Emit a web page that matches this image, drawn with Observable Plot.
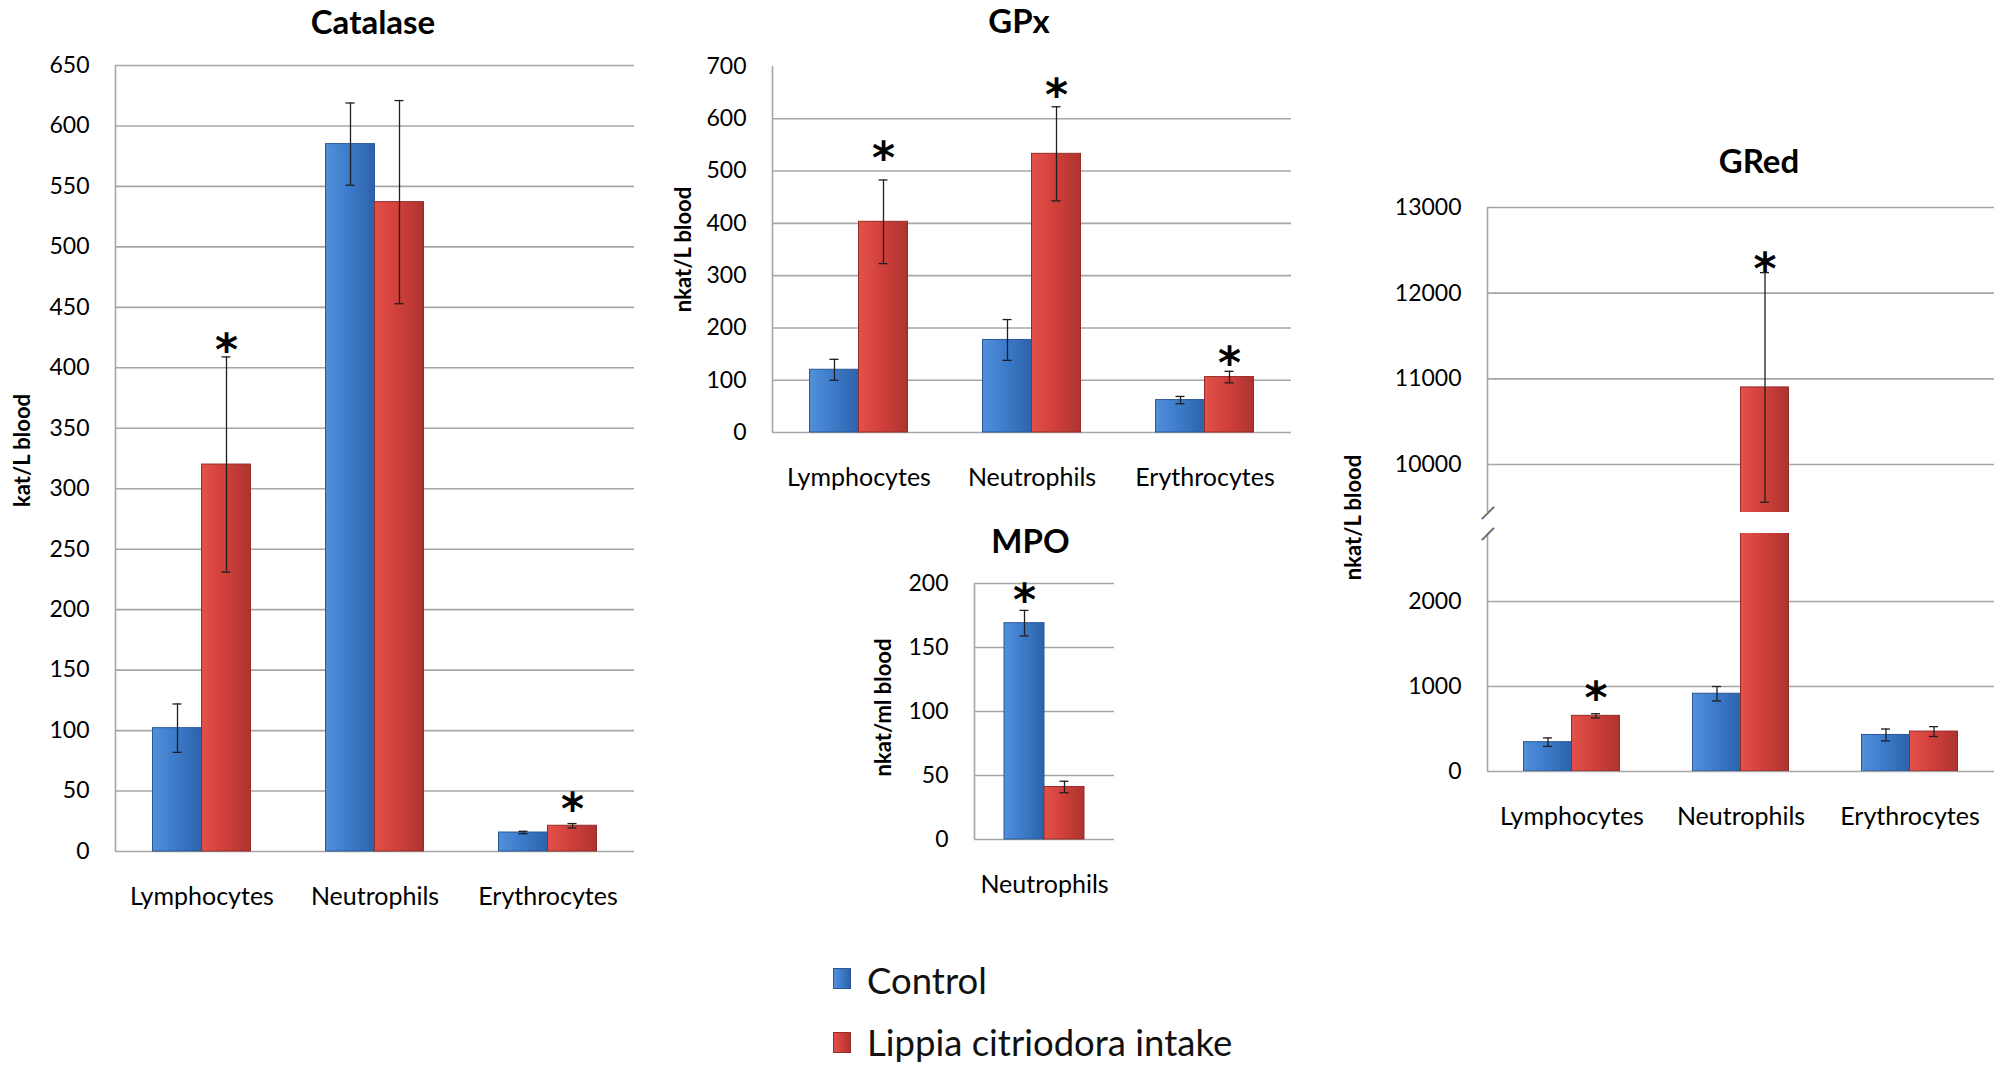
<!DOCTYPE html>
<html><head><meta charset="utf-8">
<script src="https://cdn.jsdelivr.net/npm/d3@7"></script>
<script src="https://cdn.jsdelivr.net/npm/@observablehq/plot@0.6"></script>
<style>
body{margin:0;background:#fff;font-family:Lato,sans-serif;}
#root{position:relative;width:2000px;height:1065px;overflow:hidden;background:#fff;}
.panel{position:absolute;}
.legsq{position:absolute;left:833px;width:18px;height:21px;}
.legtx{position:absolute;left:867px;font-size:36.5px;line-height:40px;color:#111;font-family:Lato,sans-serif;white-space:nowrap;}
</style></head><body>
<svg width="0" height="0" style="position:absolute">
<defs>
<linearGradient id="gBlue" x1="0" x2="1" y1="0" y2="0">
<stop offset="0" stop-color="#5290da"/><stop offset="0.45" stop-color="#3d7ccb"/><stop offset="1" stop-color="#2c63aa"/>
</linearGradient>
<linearGradient id="gRed" x1="0" x2="1" y1="0" y2="0">
<stop offset="0" stop-color="#e3514b"/><stop offset="0.45" stop-color="#d2403b"/><stop offset="1" stop-color="#ad3430"/>
</linearGradient>
</defs></svg>
<div id="root"></div>
<script>
// ---------- data ----------
const categories = ["Lymphocytes", "Neutrophils", "Erythrocytes"];
const mpoCategories = ["Neutrophils"];
const legendLabels = ["Control", "Lippia citriodora intake"];

const catalaseControl   = [102, 585, 15.7];
const catalaseControlSD = [20, 34, 1];
const catalaseLippia    = [320, 537, 21.3];
const catalaseLippiaSD  = [89, 84, 1.8];
const catalaseStarLippia = [419, null, 39];
const catalaseTicks = [0, 50, 100, 150, 200, 250, 300, 350, 400, 450, 500, 550, 600, 650];

const gpxControl   = [120, 177, 62];
const gpxControlSD = [20, 39, 7];
const gpxLippia    = [403, 533, 106];
const gpxLippiaSD  = [80, 90, 11];
const gpxStarLippia = [534, 655, 142];
const gpxTicks = [0, 100, 200, 300, 400, 500, 600, 700];
const gpxGrid  = [0, 100, 200, 300, 400, 500, 600];

const mpoControl   = [169];
const mpoControlSD = [10];
const mpoLippia    = [41];
const mpoLippiaSD  = [4.5];
const mpoStarControl = [191];
const mpoTicks = [0, 50, 100, 150, 200];

const gredControl   = [345, 915, 430];
const gredControlSD = [50, 85, 70];
const gredLippia    = [655, 10900, 470];
const gredLippiaSD  = [25, 1340, 58];
const gredStarLippia = [922, 12342, null];
const gredTicksUpper = [10000, 11000, 12000, 13000];
const gredTicksLower = [0, 1000, 2000];
const gredDomainUpper = [9440, 13000];
const gredDomainLower = [0, 2800];

// ---------- drawing ----------
const root = document.getElementById("root");

function panel(cfg) {
  const [d0, d1] = cfg.domain;
  const rows = (vals, sds, stars) => vals.map((v, i) => ({
    cat: cfg.cats[i], value: v, lo: v - sds[i], hi: v + sds[i],
    star: stars ? stars[i] : null
  }));
  const ctrl = rows(cfg.ctrl, cfg.ctrlSD, cfg.ctrlStar);
  const trt = rows(cfg.trt, cfg.trtSD, cfg.trtStar);
  const innerW = cfg.width - cfg.ml - cfg.mr;
  const band = innerW / cfg.cats.length;
  const bw = cfg.barW;
  const outer = band / 2 - bw;
  const capIn = band / 2 - 4.5;
  const clip = !!cfg.clip;
  const ebar = (data, dx) => [
    Plot.ruleX(data, {x: "cat", y1: "lo", y2: "hi", dx, stroke: "#1e1e1e", strokeWidth: 1.3, clip}),
    Plot.tickY(data, {x: "cat", y: "lo", dx, insetLeft: capIn, insetRight: capIn, stroke: "#1e1e1e", strokeWidth: 1.3, clip}),
    Plot.tickY(data, {x: "cat", y: "hi", dx, insetLeft: capIn, insetRight: capIn, stroke: "#1e1e1e", strokeWidth: 1.3, clip})
  ];
  const stars = (data, dx) => Plot.text(data.filter(d => d.star != null && d.star >= d0 && d.star <= d1), {
    x: "cat", y: "star", text: () => "*", dx, dy: 6, fontSize: 44, fontWeight: "bold",
    fontFamily: "DejaVu Sans, sans-serif", fill: "#000", textAnchor: "middle", lineAnchor: "middle"
  });
  const marks = [
    Plot.ruleY(cfg.grid, {stroke: "#a6a6a6", strokeWidth: 1.6}),
    Plot.ruleX([cfg.cats[0]], {x: d => d, dx: -band / 2, stroke: "#a6a6a6", strokeWidth: 1.6}),
    Plot.barY(ctrl, {x: "cat", y: "value", fill: "url(#gBlue)", stroke: "#2a5896", strokeWidth: 1, insetLeft: outer, insetRight: band / 2, clip}),
    Plot.barY(trt, {x: "cat", y: "value", fill: "url(#gRed)", stroke: "#962c28", strokeWidth: 1, insetLeft: band / 2, insetRight: outer, clip}),
    ...ebar(ctrl, -bw / 2),
    ...ebar(trt, bw / 2),
    stars(ctrl, -bw / 2),
    stars(trt, bw / 2),
    ...(cfg.xAxis === false ? [] : [
      Plot.text(cfg.cats, {x: d => d, frameAnchor: "bottom", dy: 45, fontSize: 25, fill: "#000",
        textAnchor: "middle", lineAnchor: "middle"})
    ]),
    ...(cfg.extra || [])
  ];
  const svg = Plot.plot({
    width: cfg.width, height: cfg.height,
    marginLeft: cfg.ml, marginRight: cfg.mr, marginTop: cfg.mt, marginBottom: cfg.mb,
    style: {fontFamily: "Lato, sans-serif", fontSize: "23px", color: "#000", background: "transparent", overflow: "visible"},
    x: {domain: cfg.cats, padding: 0, axis: null},
    y: {domain: cfg.domain, ticks: cfg.ticks, tickSize: 0, tickPadding: 26, tickFormat: d => String(d), label: null},
    marks
  });
  svg.classList.add("panel");
  svg.style.position = "absolute";
  svg.style.left = cfg.left + "px";
  svg.style.top = cfg.top + "px";
  svg.style.maxWidth = "none";
  root.appendChild(svg);
}

const title = (t, dx, dy) => Plot.text([t], {frameAnchor: "top", dx, dy, fontSize: 33, fontWeight: "bold", fill: "#000", textAnchor: "middle", lineAnchor: "middle"});
const ylab = (t, dx, dy = 0, anchor = "left") => Plot.text([t], {frameAnchor: anchor, rotate: -90, dx, dy, fontSize: 22, fontWeight: "bold", fill: "#000", textAnchor: "middle", lineAnchor: "middle"});
const slash = (anchor) => Plot.text(["\u2014"], {frameAnchor: anchor, rotate: -45, fontSize: 26, fill: "#666", textAnchor: "middle", lineAnchor: "middle"});

// Catalase
panel({
  left: 0, top: 0, width: 660, height: 930, ml: 115, mr: 26, mt: 65, mb: 79,
  cats: categories, domain: [0, 650], ticks: catalaseTicks, grid: catalaseTicks, barW: 49,
  ctrl: catalaseControl, ctrlSD: catalaseControlSD, trt: catalaseLippia, trtSD: catalaseLippiaSD,
  trtStar: catalaseStarLippia,
  extra: [title("Catalase", -2, -42), ylab("kat/L blood", -93, -8)]
});

// GPx
panel({
  left: 640, top: 0, width: 680, height: 500, ml: 132, mr: 29, mt: 66, mb: 68,
  cats: categories, domain: [0, 700], ticks: gpxTicks, grid: gpxGrid, barW: 49,
  ctrl: gpxControl, ctrlSD: gpxControlSD, trt: gpxLippia, trtSD: gpxLippiaSD,
  trtStar: gpxStarLippia,
  extra: [title("GPx", -13, -44), ylab("nkat/L blood", -89)]
});

// MPO
panel({
  left: 860, top: 500, width: 280, height: 420, ml: 114, mr: 26, mt: 83, mb: 81,
  cats: mpoCategories, domain: [0, 200], ticks: mpoTicks, grid: mpoTicks, barW: 40,
  ctrl: mpoControl, ctrlSD: mpoControlSD, trt: mpoLippia, trtSD: mpoLippiaSD,
  ctrlStar: mpoStarControl,
  extra: [title("MPO", -14, -41), ylab("nkat/ml blood", -91, -4)]
});

// GRed upper (broken axis)
panel({
  left: 1300, top: 140, width: 700, height: 460, ml: 187, mr: 6, mt: 67, mb: 88,
  cats: categories, domain: gredDomainUpper, ticks: gredTicksUpper, grid: gredTicksUpper, barW: 48,
  ctrl: gredControl, ctrlSD: gredControlSD, trt: gredLippia, trtSD: gredLippiaSD,
  trtStar: gredStarLippia, clip: true, xAxis: false,
  extra: [title("GRed", 18, -45), ylab("nkat/L blood", -134, 5, "bottom-left"), slash("bottom-left")]
});

// GRed lower
panel({
  left: 1300, top: 500, width: 700, height: 331, ml: 187, mr: 6, mt: 33, mb: 60,
  cats: categories, domain: gredDomainLower, ticks: gredTicksLower, grid: gredTicksLower, barW: 48,
  ctrl: gredControl, ctrlSD: gredControlSD, trt: gredLippia, trtSD: gredLippiaSD,
  trtStar: gredStarLippia, clip: true,
  extra: [slash("top-left")]
});

// Legend
const legendFills = ["url(#gBlue)", "url(#gRed)"];
const legendStrokes = ["#2a5896", "#962c28"];
const legendTop = [968, 1032];
const legendTextTop = [960, 1022];
legendLabels.forEach((lab, i) => {
  const sq = document.createElementNS("http://www.w3.org/2000/svg", "svg");
  sq.setAttribute("class", "legsq");
  sq.setAttribute("width", 18); sq.setAttribute("height", 21);
  sq.style.top = legendTop[i] + "px";
  sq.innerHTML = `<rect x="0.5" y="0.5" width="17" height="20" fill="${legendFills[i]}" stroke="${legendStrokes[i]}"/>`;
  root.appendChild(sq);
  const tx = document.createElement("div");
  tx.className = "legtx";
  tx.style.top = legendTextTop[i] + "px";
  tx.textContent = lab;
  root.appendChild(tx);
});
</script>
</body></html>
